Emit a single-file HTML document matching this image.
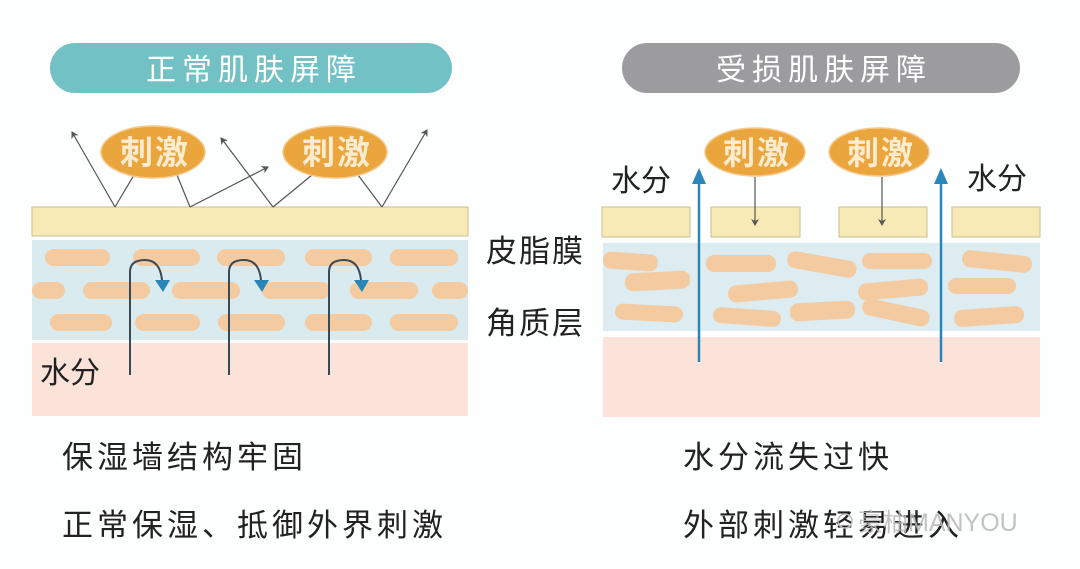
<!DOCTYPE html>
<html><head><meta charset="utf-8"><style>
html,body{margin:0;padding:0;background:#fdfefe;}
svg{display:block}
text{font-family:"Liberation Sans","Noto Sans CJK SC",sans-serif;}
</style></head><body>
<svg width="1080" height="569" viewBox="0 0 1080 569" xmlns="http://www.w3.org/2000/svg">
<defs>
<marker id="ah" markerWidth="8" markerHeight="8" refX="6" refY="4" orient="auto" markerUnits="userSpaceOnUse"><path d="M0,0 L7,4 L0,8 L2,4 Z" fill="#555"/></marker>
</defs>
<rect width="1080" height="569" fill="#fdfefe"/>
<!-- headers -->
<rect x="50" y="43" width="402" height="50" rx="25" fill="#72c1c4"/>
<text x="254" y="80" font-size="30" fill="#fff" text-anchor="middle" letter-spacing="6">正常肌肤屏障</text>
<rect x="622" y="43" width="398" height="50" rx="25" fill="#9c9c9e"/>
<text x="824" y="80" font-size="30" fill="#fff" text-anchor="middle" letter-spacing="6">受损肌肤屏障</text>

<!-- LEFT PANEL -->
<rect x="32" y="343" width="436" height="73" fill="#fbe3da"/>
<rect x="32" y="240" width="436" height="100" fill="#d9ebef"/>
<g fill="#f4caa0">
<rect x="45" y="249" width="65" height="17" rx="8.5"/><rect x="133" y="249" width="67" height="17" rx="8.5"/><rect x="217" y="249" width="68" height="17" rx="8.5"/><rect x="305" y="249" width="67" height="17" rx="8.5"/><rect x="390" y="249" width="68" height="17" rx="8.5"/>
<rect x="32" y="282" width="33" height="17" rx="8.5"/><rect x="83" y="282" width="67" height="17" rx="8.5"/><rect x="172" y="282" width="68" height="17" rx="8.5"/><rect x="262" y="282" width="68" height="17" rx="8.5"/><rect x="350" y="282" width="68" height="17" rx="8.5"/><rect x="432" y="282" width="36" height="17" rx="8.5"/>
<rect x="50" y="314" width="62" height="17" rx="8.5"/><rect x="135" y="314" width="65" height="17" rx="8.5"/><rect x="218" y="314" width="67" height="17" rx="8.5"/><rect x="305" y="314" width="67" height="17" rx="8.5"/><rect x="390" y="314" width="68" height="17" rx="8.5"/>
</g>
<rect x="32" y="207" width="436" height="29" fill="#f8eab5" stroke="#c9c08f" stroke-width="1"/>
<g stroke="#555" stroke-width="1.2" fill="none">
<line x1="134" y1="175" x2="115" y2="207"/><line x1="115" y1="207" x2="72" y2="132" marker-end="url(#ah)"/>
<line x1="177" y1="175" x2="190" y2="207"/><line x1="190" y1="207" x2="268" y2="167" marker-end="url(#ah)"/>
<line x1="312" y1="175" x2="273" y2="207"/><line x1="273" y1="207" x2="221" y2="138" marker-end="url(#ah)"/>
<line x1="358" y1="175" x2="382" y2="207"/><line x1="382" y1="207" x2="427" y2="130" marker-end="url(#ah)"/>
</g>
<ellipse cx="153" cy="152" rx="52" ry="26" fill="#eba53d" stroke="#f5c98a" stroke-width="1.5"/>
<text x="155" y="164" font-size="33" font-weight="bold" fill="#fbecd0" text-anchor="middle" letter-spacing="2">刺激</text>
<ellipse cx="335" cy="152" rx="52" ry="26" fill="#eba53d" stroke="#f5c98a" stroke-width="1.5"/>
<text x="337" y="164" font-size="33" font-weight="bold" fill="#fbecd0" text-anchor="middle" letter-spacing="2">刺激</text>
<g stroke="#3a4a55" stroke-width="2" fill="none">
<path d="M130,375 V272 Q130,260 145,260 Q160,260 162,280"/>
<path d="M229,375 V272 Q229,260 244,260 Q259,260 261,280"/>
<path d="M329,375 V272 Q329,260 344,260 Q359,260 361,280"/>
</g>
<g fill="#2a86b8">
<path d="M155,280 L170,280 L163,292 Z"/><path d="M254,280 L269,280 L262,292 Z"/><path d="M354,280 L369,280 L362,292 Z"/>
</g>
<text x="40" y="383" font-size="30" fill="#222">水分</text>
<text x="486" y="262" font-size="31" fill="#222" letter-spacing="2">皮脂膜</text>
<text x="486" y="334" font-size="31" fill="#222" letter-spacing="2">角质层</text>

<!-- RIGHT PANEL -->
<rect x="603" y="337" width="437" height="80" fill="#fbe3da"/>
<rect x="603" y="243" width="437" height="88" fill="#dcecf0"/>
<g fill="#f4caa0">
<rect x="603" y="253" width="55" height="17" rx="8" transform="rotate(4 630 261)"/>
<rect x="625" y="272" width="65" height="18" rx="8" transform="rotate(-3 657 281)"/>
<rect x="615" y="305" width="68" height="16" rx="8" transform="rotate(3 649 313)"/>
<rect x="706" y="255" width="70" height="17" rx="8"/>
<rect x="728" y="283" width="70" height="17" rx="8" transform="rotate(-5 763 291)"/>
<rect x="713" y="309" width="68" height="16" rx="8" transform="rotate(4 747 317)"/>
<rect x="787" y="256" width="70" height="17" rx="8" transform="rotate(10 822 264)"/>
<rect x="790" y="302" width="65" height="18" rx="8" transform="rotate(-3 822 311)"/>
<rect x="862" y="253" width="70" height="16" rx="8"/>
<rect x="858" y="281" width="70" height="17" rx="8" transform="rotate(-5 893 289)"/>
<rect x="862" y="304" width="68" height="17" rx="8" transform="rotate(12 896 312)"/>
<rect x="962" y="253" width="70" height="17" rx="8" transform="rotate(6 997 261)"/>
<rect x="948" y="278" width="68" height="16" rx="8"/>
<rect x="954" y="308" width="70" height="17" rx="8" transform="rotate(-4 989 316)"/>
</g>
<g fill="#f8eab5" stroke="#c9c08f" stroke-width="1">
<rect x="602" y="207" width="88" height="30"/><rect x="711" y="207" width="89" height="30"/><rect x="839" y="207" width="88" height="30"/><rect x="952" y="207" width="88" height="30"/>
</g>
<ellipse cx="755" cy="152" rx="50" ry="24" fill="#eba53d" stroke="#f5c98a" stroke-width="1.5"/>
<text x="757" y="164" font-size="32" font-weight="bold" fill="#fbecd0" text-anchor="middle" letter-spacing="2">刺激</text>
<ellipse cx="879" cy="152" rx="50" ry="24" fill="#eba53d" stroke="#f5c98a" stroke-width="1.5"/>
<text x="881" y="164" font-size="32" font-weight="bold" fill="#fbecd0" text-anchor="middle" letter-spacing="2">刺激</text>
<g stroke="#555" stroke-width="1.2">
<line x1="755" y1="177" x2="755" y2="225" marker-end="url(#ah)"/>
<line x1="882" y1="177" x2="882" y2="225" marker-end="url(#ah)"/>
</g>
<g stroke="#2a86b8" stroke-width="2.5">
<line x1="699" y1="362" x2="699" y2="180"/><line x1="941" y1="362" x2="941" y2="180"/>
</g>
<path d="M692,184 L699,168 L706,184 Z" fill="#2a86b8"/>
<path d="M934,184 L941,168 L948,184 Z" fill="#2a86b8"/>
<text x="611" y="191" font-size="30" fill="#222">水分</text>
<text x="967" y="189" font-size="30" fill="#222">水分</text>

<!-- bottom text -->
<text x="62" y="468" font-size="31" fill="#222" letter-spacing="4">保湿墙结构牢固</text>
<text x="62" y="536" font-size="31" fill="#222" letter-spacing="4">正常保湿、抵御外界刺激</text>
<text x="683" y="468" font-size="31" fill="#222" letter-spacing="4">水分流失过快</text>
<text x="683" y="536" font-size="31" fill="#222" letter-spacing="4">外部刺激轻易进入</text>
<text x="858" y="531" font-size="25" fill="#b8b8b8" opacity="0.85">豪柚MANYOU</text>
<circle cx="845" cy="521" r="7" fill="none" stroke="#bbb" stroke-width="1.5"/>
</svg>
</body></html>
